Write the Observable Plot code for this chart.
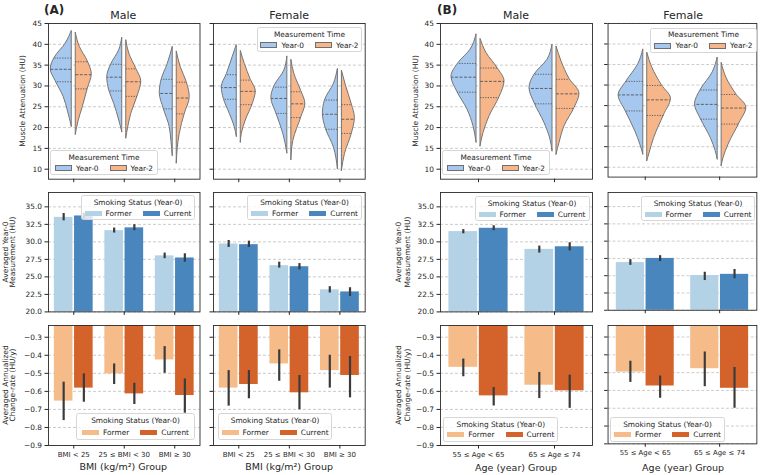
<!DOCTYPE html>
<html><head><meta charset="utf-8">
<script src="https://cdn.jsdelivr.net/npm/d3@7"></script>
<script src="https://cdn.jsdelivr.net/npm/@observablehq/plot@0.6"></script>
<style>
body{margin:0;background:#fff;}
#root{position:relative;width:760px;height:475px;overflow:hidden;font-family:"DejaVu Sans",sans-serif;color:#262626;background:#fff;}
.panel{position:absolute;}
.panel svg{overflow:visible;}
.legend{position:absolute;box-sizing:border-box;border:1px solid #d6d6d6;border-radius:2.5px;background:rgba(255,255,255,0.8);font-size:7.4px;color:#262626;white-space:nowrap;}
.legend .lt{position:absolute;left:0;right:0;text-align:center;line-height:9px;}
.legend .le{position:absolute;left:0;right:0;display:flex;justify-content:center;align-items:center;column-gap:11px;line-height:9px;}
.legend .it{display:flex;align-items:center;column-gap:4px;}
.legend .sw{display:inline-block;width:17px;height:5px;box-sizing:border-box;}
#overlay{position:absolute;left:0;top:0;}
</style></head>
<body><div id="root"></div>
<script>
// ---------------- DATA ----------------
const bmiGroups = ["BMI < 25", "25 ≤ BMI < 30", "BMI ≥ 30"];
const ageGroups = ["55 ≤ Age < 65", "65 ≤ Age ≤ 74"];
const sexes = ["Male", "Female"];
const timeLabels = ["Year-0", "Year-2"];
const smokingLabels = ["Former", "Current"];

const huTicks = [10, 15, 20, 25, 30, 35, 40, 45];
const meanTicks = [20, 22.5, 25, 27.5, 30, 32.5, 35];
const rateTicks = [-0.9, -0.8, -0.7, -0.6, -0.5, -0.4, -0.3];

// Violin profiles: [HU, relative density] per group
const violinBmiMaleY0 = [
  [[43.2,0],[40.2,.24],[36.8,.68],[34.0,.84],[31.1,.64],[27.3,.32],[24.1,.16],[20.2,0]],
  [[41.6,0],[38.6,.12],[35.2,.44],[32.1,.6],[28.9,.52],[25.7,.32],[21.7,.12],[18.9,0]],
  [[39.4,0],[35.3,.2],[31.6,.44],[28.3,.52],[24.5,.36],[20.1,.12],[16.5,.05],[13.2,0]]
];
const violinBmiMaleY2 = [
  [[42.8,0],[39.4,.16],[35.9,.48],[32.8,.64],[29.3,.48],[24.9,.28],[21.7,.12],[18.3,0]],
  [[41.0,0],[37.8,.12],[34.1,.4],[31.1,.6],[27.3,.44],[23.3,.2],[20.1,.08],[17.4,0]],
  [[38.3,0],[34.5,.16],[30.9,.4],[27.3,.52],[23.3,.32],[18.5,.12],[15.0,.04],[11.4,0]]
];
const violinBmiFemaleY0 = [
  [[39.8,0],[37.0,.16],[32.8,.4],[29.7,.6],[26.9,.52],[23.3,.28],[20.1,.08],[17.8,0]],
  [[37.1,0],[33.7,.12],[29.9,.52],[27.1,.64],[23.4,.44],[18.5,.16],[13.8,0]],
  [[34.1,0],[30.5,.16],[26.5,.52],[23.3,.6],[19.7,.48],[15.2,.16],[10.0,0]]
];
const violinBmiFemaleY2 = [
  [[38.4,0],[35.3,.16],[31.5,.4],[28.7,.6],[25.7,.48],[21.7,.2],[18.5,.04],[16.4,0]],
  [[36.3,0],[32.9,.12],[28.7,.4],[25.7,.56],[22.5,.4],[16.8,.08],[12.2,0]],
  [[33.7,0],[30.1,.16],[25.5,.4],[22.3,.52],[18.6,.4],[13.6,.12],[9.6,0]]
];
const violinAgeMaleY0 = [
  [[42.4,0],[38.7,.24],[35.5,.72],[32.2,1],[28.5,.76],[24.3,.36],[20.3,.12],[16.4,0]],
  [[39.9,0],[36.3,.2],[32.7,.72],[29.5,.92],[25.9,.72],[21.1,.32],[17.1,.08],[14.3,0]]
];
const violinAgeMaleY2 = [
  [[41.3,0],[37.9,.24],[34.3,.68],[31.1,.96],[27.3,.76],[22.7,.36],[18.7,.12],[15.5,0]],
  [[39.5,0],[35.9,.2],[31.7,.52],[28.1,.92],[24.7,.72],[20.3,.32],[16.3,.12],[13.5,0]]
];
const violinAgeFemaleY0 = [
  [[38.7,0],[35.1,.2],[30.9,.68],[27.5,1],[23.7,.72],[18.7,.32],[15.5,.12],[13.1,0]],
  [[36.7,0],[33.1,.2],[28.9,.68],[25.3,.92],[21.7,.68],[17.1,.28],[13.9,.08],[11.9,0]]
];
const violinAgeFemaleY2 = [
  [[37.9,0],[34.3,.2],[29.9,.6],[26.7,.96],[22.7,.68],[17.1,.28],[13.1,.08],[11.5,0]],
  [[35.4,0],[31.7,.2],[27.7,.6],[24.5,1],[20.7,.72],[15.5,.28],[12.3,.08],[10.3,0]]
];

// Quartiles [Q1, median, Q3]
const quartBmiMaleY0 = [[31.0,34.0,36.7],[28.8,32.1,35.2],[24.5,28.2,31.6]];
const quartBmiMaleY2 = [[29.3,32.7,35.8],[27.5,31.0,34.1],[23.3,27.1,30.9]];
const quartBmiFemaleY0 = [[26.8,29.6,32.7],[23.4,27.0,29.7],[19.6,23.2,26.6]];
const quartBmiFemaleY2 = [[25.5,28.7,31.4],[22.4,25.7,28.6],[18.6,22.0,25.5]];
const quartAgeMaleY0 = [[28.5,32.1,35.4],[25.7,29.4,32.8]];
const quartAgeMaleY2 = [[27.2,31.1,34.3],[24.6,28.1,31.6]];
const quartAgeFemaleY0 = [[23.7,27.6,30.9],[21.7,25.3,28.8]];
const quartAgeFemaleY2 = [[22.6,26.4,29.9],[20.5,24.4,27.7]];

// Averaged Year-0 measurement [mean, ciLow, ciHigh]
const meanBmiMaleFormer = [[33.5,33.0,34.05],[31.6,31.26,31.97],[28.0,27.6,28.4]];
const meanBmiMaleCurrent = [[33.7,33.2,34.1],[32.0,31.6,32.45],[27.7,27.1,28.3]];
const meanBmiFemaleFormer = [[29.7,29.2,30.2],[26.6,26.25,27.1],[23.15,22.7,23.6]];
const meanBmiFemaleCurrent = [[29.6,29.2,30.1],[26.45,26.0,26.9],[22.85,22.2,23.45]];
const meanAgeMaleFormer = [[31.47,31.15,31.75],[28.93,28.4,29.4]];
const meanAgeMaleCurrent = [[31.94,31.6,32.3],[29.3,28.7,29.87]];
const meanAgeFemaleFormer = [[26.9,26.5,27.33],[25.03,24.3,25.5]];
const meanAgeFemaleCurrent = [[27.5,27.05,27.9],[25.2,24.56,25.9]];

// Averaged annualized change-rate [mean, ciLow, ciHigh]
const rateBmiMaleFormer = [[-0.654,-0.762,-0.549],[-0.503,-0.562,-0.448],[-0.426,-0.5,-0.352]];
const rateBmiMaleCurrent = [[-0.582,-0.66,-0.503],[-0.614,-0.673,-0.555],[-0.623,-0.721,-0.531]];
const rateBmiFemaleFormer = [[-0.582,-0.682,-0.485],[-0.448,-0.544,-0.37],[-0.485,-0.582,-0.4]];
const rateBmiFemaleCurrent = [[-0.562,-0.641,-0.485],[-0.608,-0.702,-0.512],[-0.512,-0.636,-0.407]];
const rateAgeMaleFormer = [[-0.467,-0.519,-0.421],[-0.566,-0.64,-0.495]];
const rateAgeMaleCurrent = [[-0.625,-0.681,-0.579],[-0.597,-0.694,-0.51]];
const rateAgeFemaleFormer = [[-0.497,-0.555,-0.436],[-0.478,-0.579,-0.384]];
const rateAgeFemaleCurrent = [[-0.575,-0.644,-0.519],[-0.588,-0.70,-0.471]];

// ---------------- STYLE / LAYOUT ----------------
const violinColors = ["#a6c8ef", "#f7b68a"];
const blueColors = ["#b4d2e6", "#4886bd"];
const orangeColors = ["#f5bc8a", "#d3632b"];
const VIOLIN_W = 25, GAP = 2;
const cols = [[47.5, 199], [213.3, 365], [440, 592], [607.7, 758.5]];
const rows = [[23.3, 179], [192.3, 311.7], [325, 445]];
const root = document.getElementById("root");

function panel({col, row, n, yDomain, yTicks, yFmt, yLabels, xLabels, marks}) {
  const [l, r] = cols[col], [t, b] = rows[row];
  const w = r - l, h = b - t;
  const ML = 34, MR = 4, MT = 4, MB = 22;
  const svg = Plot.plot({
    width: w + ML + MR, height: h + MT + MB,
    marginLeft: ML, marginRight: MR, marginTop: MT, marginBottom: MB,
    style: {fontFamily: "DejaVu Sans", fontSize: "7.4px", color: "#262626", background: "transparent", overflow: "visible"},
    x: {domain: [0, n]},
    y: {domain: yDomain},
    marks: [
      Plot.gridY(yTicks, {stroke: "#b5b5b5", strokeOpacity: 1, strokeDasharray: "3,2", strokeWidth: 0.7}),
      ...marks(w),
      Plot.frame({stroke: "#2a2a2a", strokeWidth: 0.9}),
      Plot.axisY(yTicks, {tickSize: 3.5, tickPadding: 3, tickFormat: yLabels ? yFmt : () => "", label: null}),
      Plot.axisX(d3.range(n).map(i => i + 0.5), {tickSize: 3.5, tickPadding: 3, fontSize: 7,
        tickFormat: xLabels ? (d => xLabels[Math.floor(d)]) : () => "", label: null})
    ]
  });
  const div = document.createElement("div");
  div.className = "panel";
  div.style.left = (l - ML) + "px";
  div.style.top = (t - MT) + "px";
  div.append(svg);
  root.append(div);
}

function widthAt(prof, v) {
  const p = prof.slice().sort((a, b) => a[0] - b[0]);
  for (let k = 0; k < p.length - 1; k++) {
    if (v >= p[k][0] && v <= p[k + 1][0]) {
      const f = (v - p[k][0]) / (p[k + 1][0] - p[k][0]);
      return p[k][1] + f * (p[k + 1][1] - p[k][1]);
    }
  }
  return 0;
}

function violinMarks(y0, y2, q0, q2) {
  return (w) => {
    const n = y0.length, u = n / w;
    const out = [];
    [[y0, q0, -1, violinColors[0]], [y2, q2, 1, violinColors[1]]].forEach(([profiles, quarts, side, fill]) => {
      profiles.forEach((prof, i) => {
        const edge = i + 0.5 + side * GAP * u;
        const pts = prof.slice().sort((a, b) => a[0] - b[0]);
        out.push(Plot.areaX(pts, {y: d => d[0], x1: () => edge, x2: d => edge + side * d[1] * VIOLIN_W * u,
          curve: "monotone-y", fill, stroke: "#747474", strokeWidth: 1}));
        const q = quarts[i].map((v, k) => ({v, k, wd: widthAt(prof, v)}));
        out.push(Plot.ruleY(q.filter(d => d.k !== 1), {y: "v", x1: () => edge, x2: d => edge + side * d.wd * VIOLIN_W * u,
          stroke: "#555", strokeWidth: 0.9, strokeDasharray: "1.3,1.3"}));
        out.push(Plot.ruleY(q.filter(d => d.k === 1), {y: "v", x1: () => edge, x2: d => edge + side * d.wd * VIOLIN_W * u,
          stroke: "#555", strokeWidth: 0.9, strokeDasharray: "3,1.5"}));
      });
    });
    return out;
  };
}

function barMarks(former, current, colors) {
  return () => {
    const rowsData = [];
    [former, current].forEach((arr, s) => arr.forEach(([m, lo, hi], i) =>
      rowsData.push({i, s, m, lo, hi})));
    return [
      Plot.rectY(rowsData, {x1: d => d.i + 0.1 + d.s * 0.4, x2: d => d.i + 0.1 + (d.s + 1) * 0.4,
        y1: () => 0, y2: "m", fill: d => colors[d.s], insetLeft: 0.8, insetRight: 0.8, clip: true}),
      Plot.ruleX(rowsData, {x: d => d.i + 0.3 + d.s * 0.4, y1: "lo", y2: "hi", stroke: "#3b3b3b", strokeWidth: 2.2})
    ];
  };
}

const fmtInt = d => String(d);
const fmt1 = d3.format(".1f");
const topDomain = [7.6, 45], midDomain = [20, 37.05], botDomain = [-0.9, -0.235];

// Top row (violins)
panel({col: 0, row: 0, n: 3, yDomain: topDomain, yTicks: huTicks, yFmt: fmtInt, yLabels: true,
  marks: violinMarks(violinBmiMaleY0, violinBmiMaleY2, quartBmiMaleY0, quartBmiMaleY2)});
panel({col: 1, row: 0, n: 3, yDomain: topDomain, yTicks: huTicks, yFmt: fmtInt, yLabels: false,
  marks: violinMarks(violinBmiFemaleY0, violinBmiFemaleY2, quartBmiFemaleY0, quartBmiFemaleY2)});
panel({col: 2, row: 0, n: 2, yDomain: topDomain, yTicks: huTicks, yFmt: fmtInt, yLabels: true,
  marks: violinMarks(violinAgeMaleY0, violinAgeMaleY2, quartAgeMaleY0, quartAgeMaleY2)});
panel({col: 3, row: 0, n: 2, yDomain: topDomain, yTicks: huTicks, yFmt: fmtInt, yLabels: false,
  marks: violinMarks(violinAgeFemaleY0, violinAgeFemaleY2, quartAgeFemaleY0, quartAgeFemaleY2)});

// Middle row (Year-0 means)
panel({col: 0, row: 1, n: 3, yDomain: midDomain, yTicks: meanTicks, yFmt: fmt1, yLabels: true,
  marks: barMarks(meanBmiMaleFormer, meanBmiMaleCurrent, blueColors)});
panel({col: 1, row: 1, n: 3, yDomain: midDomain, yTicks: meanTicks, yFmt: fmt1, yLabels: false,
  marks: barMarks(meanBmiFemaleFormer, meanBmiFemaleCurrent, blueColors)});
panel({col: 2, row: 1, n: 2, yDomain: midDomain, yTicks: meanTicks, yFmt: fmt1, yLabels: true,
  marks: barMarks(meanAgeMaleFormer, meanAgeMaleCurrent, blueColors)});
panel({col: 3, row: 1, n: 2, yDomain: midDomain, yTicks: meanTicks, yFmt: fmt1, yLabels: false,
  marks: barMarks(meanAgeFemaleFormer, meanAgeFemaleCurrent, blueColors)});

// Bottom row (change-rate)
panel({col: 0, row: 2, n: 3, yDomain: botDomain, yTicks: rateTicks, yFmt: fmt1, yLabels: true, xLabels: bmiGroups,
  marks: barMarks(rateBmiMaleFormer, rateBmiMaleCurrent, orangeColors)});
panel({col: 1, row: 2, n: 3, yDomain: botDomain, yTicks: rateTicks, yFmt: fmt1, yLabels: false, xLabels: bmiGroups,
  marks: barMarks(rateBmiFemaleFormer, rateBmiFemaleCurrent, orangeColors)});
panel({col: 2, row: 2, n: 2, yDomain: botDomain, yTicks: rateTicks, yFmt: fmt1, yLabels: true, xLabels: ageGroups,
  marks: barMarks(rateAgeMaleFormer, rateAgeMaleCurrent, orangeColors)});
panel({col: 3, row: 2, n: 2, yDomain: botDomain, yTicks: rateTicks, yFmt: fmt1, yLabels: false, xLabels: ageGroups,
  marks: barMarks(rateAgeFemaleFormer, rateAgeFemaleCurrent, orangeColors)});

// ---------------- TEXT OVERLAY ----------------
const NS = "http://www.w3.org/2000/svg";
const ov = document.createElementNS(NS, "svg");
ov.setAttribute("id", "overlay"); ov.setAttribute("width", 760); ov.setAttribute("height", 475);
ov.style.fontFamily = "DejaVu Sans"; ov.style.fill = "#262626";
root.append(ov);
function txt(s, x, y, size, opts = {}) {
  const t = document.createElementNS(NS, "text");
  t.setAttribute("x", x); t.setAttribute("y", y);
  t.setAttribute("font-size", size);
  t.setAttribute("text-anchor", opts.anchor || "middle");
  if (opts.bold) t.setAttribute("font-weight", "bold");
  if (opts.rot) { t.setAttribute("transform", `rotate(-90 ${x} ${y})`); t.setAttribute("dominant-baseline", "central"); }
  t.textContent = s;
  ov.append(t);
}
txt("(A)", 44, 13.5, 12, {anchor: "start", bold: true});
txt("(B)", 437, 13.5, 12, {anchor: "start", bold: true});
const centers = cols.map(([l, r]) => (l + r) / 2);
[0, 1, 2, 3].forEach(c => txt(sexes[c % 2], centers[c], 18.5, 11));
[[22.5], [415.5]].forEach(([x]) => txt("Muscle Attenuation (HU)", x, 101, 7.5, {rot: true}));
[[5.3, 12.8], [398.3, 407]].forEach(([a, b]) => {
  txt("Averaged Year-0", a, 252, 7.5, {rot: true});
  txt("Measurement (HU)", b, 252, 7.5, {rot: true});
  txt("Averaged Annualized", a, 385, 7.5, {rot: true});
  txt("Change-rate (HU/y)", b, 385, 7.5, {rot: true});
});
txt("BMI (kg/m²) Group", centers[0], 469.5, 9.5);
txt("BMI (kg/m²) Group", centers[1], 469.5, 9.5);
txt("Age (year) Group", centers[2], 471, 9.5);
txt("Age (year) Group", centers[3], 471, 9.5);

// ---------------- LEGENDS ----------------
function legend(left, top, w, h, title, labels, colors, outline) {
  const box = document.createElement("div");
  box.className = "legend";
  Object.assign(box.style, {left: left + "px", top: top + "px", width: w + "px", height: h + "px"});
  const tt = document.createElement("div");
  tt.className = "lt"; tt.style.top = (h * 0.28 - 4.5 - 1) + "px"; tt.textContent = title;
  box.append(tt);
  const row = document.createElement("div");
  row.className = "le"; row.style.top = (h * 0.72 - 4.5 - 1) + "px";
  labels.forEach((lab, i) => {
    const it = document.createElement("span"); it.className = "it";
    const sw = document.createElement("span"); sw.className = "sw";
    sw.style.background = colors[i];
    if (outline) { sw.style.border = "0.9px solid #6f6f6f"; sw.style.height = "6px"; }
    const tx = document.createElement("span"); tx.textContent = lab;
    it.append(sw, tx); row.append(it);
  });
  box.append(row);
  root.append(box);
}
legend(50, 150, 108, 25, "Measurement Time", timeLabels, violinColors, true);
legend(257, 27, 105, 25, "Measurement Time", timeLabels, violinColors, true);
legend(442, 150, 108, 25, "Measurement Time", timeLabels, violinColors, true);
legend(650, 27.5, 107, 25, "Measurement Time", timeLabels, violinColors, true);

legend(81, 195, 114, 25, "Smoking Status (Year-0)", smokingLabels, blueColors, false);
legend(247, 195, 115, 25, "Smoking Status (Year-0)", smokingLabels, blueColors, false);
legend(474.5, 196, 115, 25, "Smoking Status (Year-0)", smokingLabels, blueColors, false);
legend(641, 196, 114, 25, "Smoking Status (Year-0)", smokingLabels, blueColors, false);

legend(76, 412.5, 119, 27.5, "Smoking Status (Year-0)", smokingLabels, orangeColors, false);
legend(218.3, 412.5, 113.5, 27.5, "Smoking Status (Year-0)", smokingLabels, orangeColors, false);
legend(443.3, 417.3, 115, 24.5, "Smoking Status (Year-0)", smokingLabels, orangeColors, false);
legend(610, 417.3, 115, 24.5, "Smoking Status (Year-0)", smokingLabels, orangeColors, false);
</script>
</body></html>
